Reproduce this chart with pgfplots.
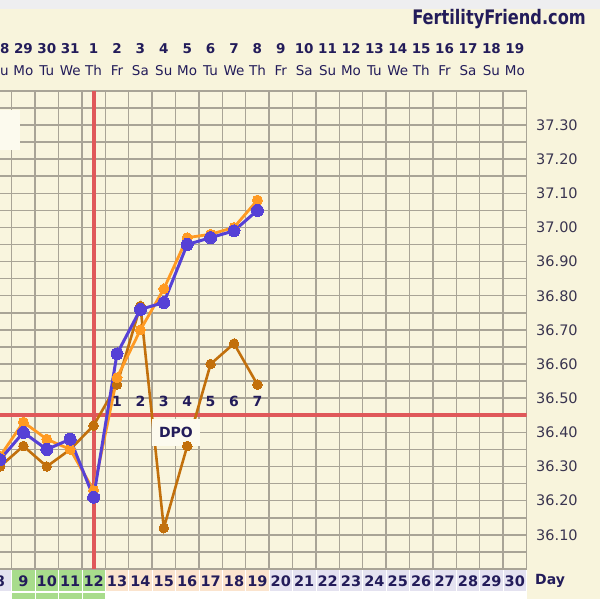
\documentclass[border=0pt]{standalone}
\usepackage{pgfplots}
\pgfplotsset{compat=1.18}
\usepackage{fontspec}
\setmainfont{DejaVu Sans}
\definecolor{bg}{HTML}{F8F4DC}
\definecolor{cell}{HTML}{F9F5DE}
\definecolor{gridc}{HTML}{A9A496}
\definecolor{navy}{HTML}{231C5A}
\definecolor{lbl}{HTML}{3A3550}
\definecolor{bluec}{HTML}{5641D6}
\definecolor{orangec}{HTML}{FF9A22}
\definecolor{brownc}{HTML}{C2700C}
\definecolor{redc}{HTML}{E0585A}
\definecolor{greenc}{HTML}{A8DC8C}
\definecolor{peach}{HTML}{FBE4CE}
\definecolor{lav}{HTML}{E4E2F0}
\definecolor{topband}{HTML}{EEEEF0}
\definecolor{boxc}{HTML}{FCFAEE}

\pgfplotstableread{
day blue orange brown
8  36.32 36.33 36.30
9  36.40 36.43 36.36
10 36.35 36.38 36.30
11 36.38 36.35 36.35
12 36.21 36.23 36.42
13 36.63 36.56 36.54
14 36.76 36.70 36.77
15 36.78 36.82 36.12
16 36.95 36.97 36.36
17 36.97 36.98 36.60
18 36.99 37.00 36.66
19 37.05 37.08 36.54
}\temps

\begin{document}
\begin{tikzpicture}[x=1pt,y=1pt]
% background, in page coordinates (page origin = bottom left)
\begin{scope}[shift={(11.7,-30)}]
\fill[bg] (0,0) rectangle (600,599);
\fill[topband] (0,590) rectangle (600,599);
\foreach \d in {8,...,30}{
  \pgfmathsetmacro{\xc}{(\d-8)*23.4}
  \ifnum\d<9 \def\cc{lav}\else\ifnum\d<13 \def\cc{greenc}\else\ifnum\d<20 \def\cc{peach}\else\def\cc{lav}\fi\fi\fi
  \fill[\cc, draw=white, line width=0.8pt] (\xc-11.7,8) rectangle (\xc+11.7,30);
  \ifnum\d>8 \ifnum\d<13
    \fill[greenc, draw=white, line width=0.8pt] (\xc-11.7,-3) rectangle (\xc+11.7,7);
  \else
    \fill[white] (\xc-11.7,-3) rectangle (\xc+11.7,7);
  \fi\else
    \fill[white] (\xc-11.7,-3) rectangle (\xc+11.7,7);
  \fi
}
\foreach \d/\dt/\wk in {8/28/Su,9/29/Mo,10/30/Tu,11/31/We,12/1/Th,13/2/Fr,14/3/Sa,15/4/Su,16/5/Mo,17/6/Tu,18/7/We,19/8/Th,20/9/Fr,21/10/Sa,22/11/Su,23/12/Mo,24/13/Tu,25/14/We,26/15/Th,27/16/Fr,28/17/Sa,29/18/Su,30/19/Mo}{
  \pgfmathsetmacro{\xc}{(\d-8)*23.4}
  \node[anchor=base, inner sep=0pt, text=navy, font=\bfseries\fontsize{13.5}{14}\selectfont] at (\xc,545) {\dt};
  \node[anchor=base, inner sep=0pt, text=navy, font=\fontsize{13.5}{14}\selectfont] at (\xc,523) {\wk};
}
\node[anchor=base east, inner sep=0pt, text=navy] at (586,574) {\scalebox{0.81}[1]{\bfseries\fontsize{20}{22}\selectfont FertilityFriend.com}};
\node[anchor=base west, inner sep=0pt, text=navy, font=\bfseries\fontsize{14}{14}\selectfont] at (535,14) {Day};
\end{scope}

\begin{axis}[
  scale only axis,
  width=538.2pt, height=478.2pt,
  xmin=7.5, xmax=30.5, ymin=36.0, ymax=37.4,
  axis background/.style={fill=cell},
  axis line style={draw=gridc, line width=1.5pt},
  xtick={8,...,30},
  minor xtick={7.5,8.5,...,30.5},
  ytick={36.1,36.2,36.3,36.4,36.5,36.6,36.7,36.8,36.9,37.0,37.1,37.2,37.3},
  minor ytick={36.05,36.15,36.25,36.35,36.45,36.55,36.65,36.75,36.85,36.95,37.05,37.15,37.25,37.35},
  xmajorgrids=false, xminorgrids=true, ymajorgrids=true, yminorgrids=true,
  major grid style={draw=gridc, line width=1.5pt},
  minor grid style={draw=gridc, line width=1.5pt},
  tick style={draw=none},
  major tick length=0pt, minor tick length=0pt,
  xticklabel style={anchor=base, inner sep=0pt, yshift=-17.7pt, text=navy, font=\bfseries\fontsize{14.5}{15}\selectfont},
  yticklabel pos=right,
  yticklabel style={anchor=west, inner sep=0pt, xshift=9.5pt, text=lbl, font=\fontsize{14.5}{15}\selectfont,
    /pgf/number format/.cd, fixed, fixed zerofill, precision=2, assume math mode=true},
  xticklabel style={/pgf/number format/assume math mode=true},
]
\addplot[redc, line width=4pt, forget plot] coordinates {(12,36.0) (12,37.4)};
\addplot[redc, line width=4pt, forget plot] coordinates {(7.5,36.45) (30.5,36.45)};
\addplot[brownc, line width=2.6pt, mark=*, mark size=4.8pt, mark options={fill=brownc, draw=brownc, line width=0pt}] table[x=day, y=brown] {\temps};
\addplot[orangec, line width=2.8pt, mark=*, mark size=5pt, mark options={fill=orangec, draw=orangec, line width=0pt}] table[x=day, y=orange] {\temps};
\addplot[bluec, line width=3pt, mark=*, mark size=6pt, mark options={fill=bluec, draw=bluec, line width=0pt}] table[x=day, y=blue] {\temps};
\foreach \k in {1,...,7}{
  \edef\tmp{\noexpand\node[anchor=center, inner sep=0pt, text=navy, font=\noexpand\bfseries\noexpand\fontsize{14}{14}\noexpand\selectfont] at (axis cs:{12+\k},36.491) {\k};}
  \tmp
}
\fill[boxc] (axis cs:14.48,36.36) rectangle (axis cs:16.55,36.44);
\node[anchor=center, inner sep=0pt, text=navy, font=\bfseries\fontsize{14}{14}\selectfont] at (axis cs:15.52,36.40) {DPO};
\end{axis}

\begin{scope}[shift={(11.7,-30)}]
\fill[boxc] (0,449) rectangle (20,489);
\end{scope}
\pgfresetboundingbox
\path[use as bounding box] (11.7,-30) rectangle (611.7,569);
\end{tikzpicture}
\end{document}
